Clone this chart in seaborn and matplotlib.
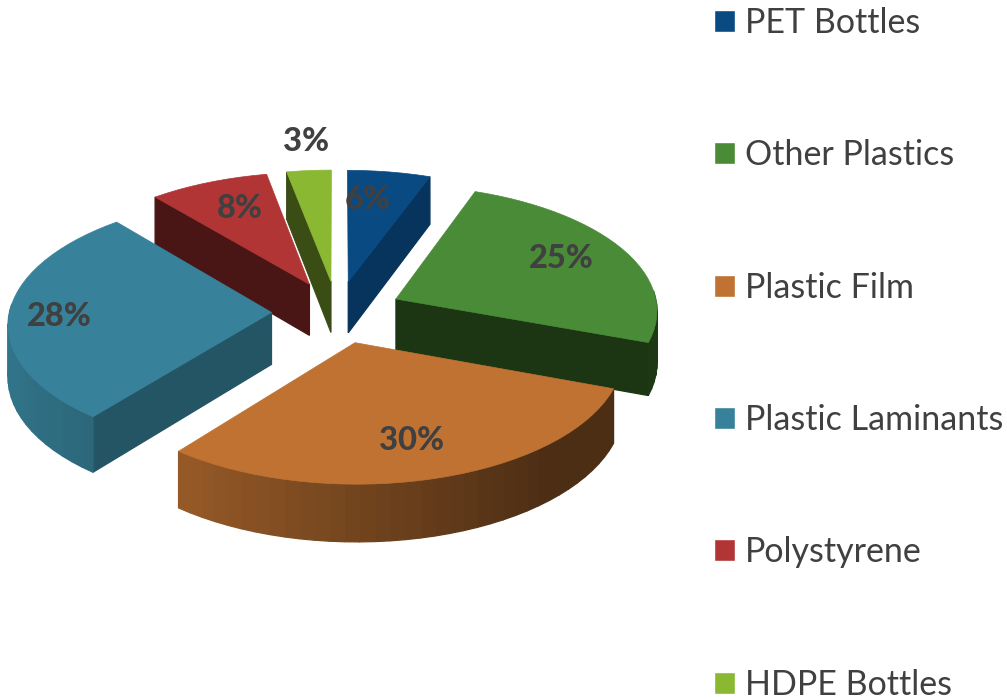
"""
Exploded 3D-look pie of plastic waste shares, drawn on a flat seaborn axes.
"""

import matplotlib
matplotlib.use("Agg")
import matplotlib.pyplot as plt
from matplotlib.patches import Patch
import numpy as np
import seaborn as sns

# Data (labels show these rounded to whole percents)
categories = ["PET Bottles", "Other Plastics", "Plastic Film",
              "Plastic Laminants", "Polystyrene", "HDPE Bottles"]
shares = [5.6, 25.0, 30.1, 28.2, 8.1, 3.0]

# Style
top_colors = ["#0A4A82", "#4A8B38", "#BF7232", "#37829A", "#B23535", "#8AB833"]
wall_colors = ["#07345C", "#1C3614", "#6E411B", "#235564", "#4A1515", "#3A4D15"]
label_radius = [0.75, 0.75, 0.72, 0.81, 0.74, 1.31]
label_nudge = [-3.6, -3.6, 0.0, 0.0, 2.4, 0.7]
draw_order = [5, 4, 0, 1, 3, 2]  # back to front

# Projection of the pie disc onto the page, in pixels
CX, CY = 337, 312
RX, RY = 262, 125
PERSPECTIVE = 0.08
EXPLODE = 0.25
DEPTH = 52
LABEL_DROP = 2.5

sns.set_theme(style="white")
plt.rcParams['font.family'] = ['Lato', 'DejaVu Sans']
TEXT_COLOR = "#404040"


def project(u, v, drop=0.0):
    """Disc coords (u right, v towards viewer) to page pixels."""
    s = 1 / (1 - PERSPECTIVE * v)
    return CX + RX * u * s, CY + RY * v * s + drop * s


def direction(deg):
    t = np.radians(deg)
    return np.sin(t), -np.cos(t)


def quad(ax, p0, p1, color):
    """Fill the wall below edge p0-p1."""
    x0, y0 = project(*p0)
    x1, y1 = project(*p1)
    x2, y2 = project(*p1, DEPTH)
    x3, y3 = project(*p0, DEPTH)
    ax.fill([x0, x1, x2, x3], [y0, y1, y2, y3], color=color, lw=0.9)


fig, ax = plt.subplots(figsize=(10.07, 7), dpi=100)
fig.subplots_adjust(0, 0, 1, 1)
ax.set_xlim(0, 1007)
ax.set_ylim(700, 0)
ax.axis("off")

palette = sns.color_palette(top_colors)
edges = np.cumsum([0] + shares) * 3.6

for i in draw_order:
    start, end = edges[i], edges[i + 1]
    mid = (start + end) / 2
    mu, mv = direction(mid)
    ox, oy = EXPLODE * mu, EXPLODE * mv
    apex = (ox, oy)
    thetas = np.linspace(start, end, max(3, int((end - start) / 3) + 1))
    rim = [(ox + direction(t)[0], oy + direction(t)[1]) for t in thetas]

    # radial walls: only the one facing the viewer is kept
    if direction(start - 90)[1] > 0:
        quad(ax, apex, rim[0], wall_colors[i])
    if direction(end + 90)[1] > 0:
        quad(ax, apex, rim[-1], wall_colors[i])

    # outer wall in strips, lit from the left
    for k in range(len(thetas) - 1):
        t = (thetas[k] + thetas[k + 1]) / 2
        nu, nv = direction(t)
        if nv > -0.05:
            f = max(0.4, 0.6 - 0.3 * nu)
            quad(ax, rim[k], rim[k + 1], tuple(c * f for c in palette[i]))

    # top face
    px, py = zip(*[project(*p) for p in [apex] + rim])
    ax.fill(px, py, color=palette[i], lw=0.5)

# percentage labels
for i in range(len(shares)):
    mid = (edges[i] + edges[i + 1]) / 2
    mu, mv = direction(mid)
    lu, lv = direction(mid + label_nudge[i])
    x, y = project(EXPLODE * mu + label_radius[i] * lu,
                   EXPLODE * mv + label_radius[i] * lv, LABEL_DROP)
    ax.text(x, y, f"{shares[i]:.0f}%", ha="center", va="center", fontsize=23.5,
            fontweight="black", color=TEXT_COLOR)

handles = [Patch(facecolor=c, label=n) for c, n in zip(palette, categories)]
ax.legend(handles=handles, loc="upper left", bbox_to_anchor=(707.5 / 1007, 1),
          bbox_transform=fig.transFigure, frameon=False, fontsize=24.5,
          labelcolor=TEXT_COLOR, handlelength=0.62, handleheight=0.62,
          handletextpad=0.29, labelspacing=2.95, borderpad=0.2, borderaxespad=0)

fig.savefig("out.png", dpi=100)
